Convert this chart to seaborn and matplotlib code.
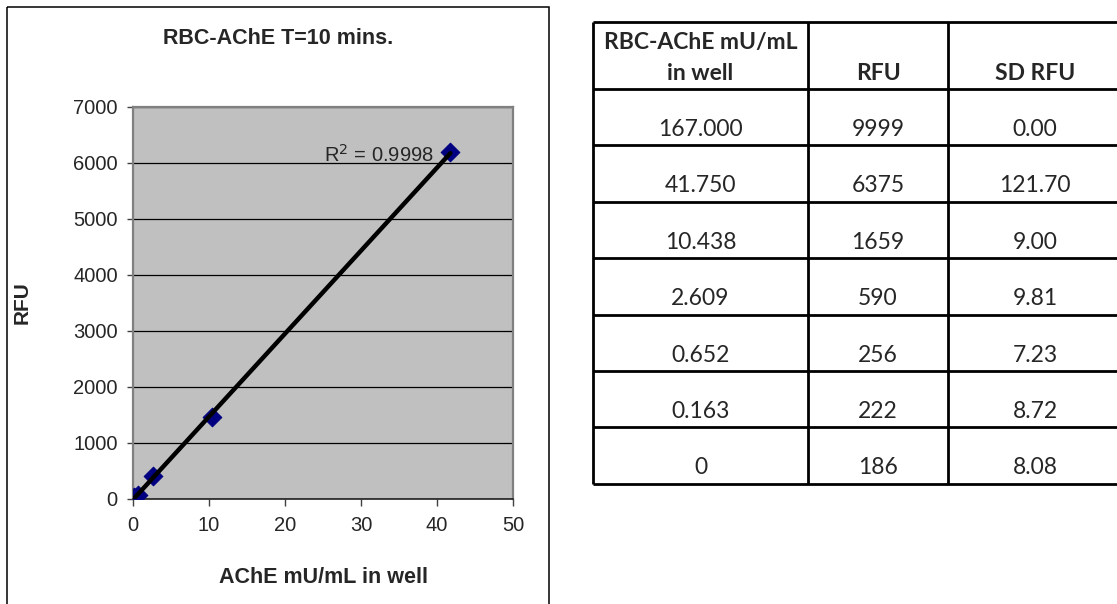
import numpy as np
import pandas as pd
import matplotlib
matplotlib.use("Agg")
import matplotlib.pyplot as plt
from matplotlib.patches import Rectangle
import seaborn as sns

# Table values
col_headers = ["RBC-AChE mU/mL\nin well", "RFU", "SD RFU"]
conc_labels = ["167.000", "41.750", "10.438", "2.609", "0.652", "0.163", "0"]
rfu_labels = ["9999", "6375", "1659", "590", "256", "222", "186"]
sd_labels = ["0.00", "121.70", "9.00", "9.81", "7.23", "8.72", "8.08"]

# Plotted points (blank-subtracted RFU)
plot_x = [41.75, 10.438, 2.609, 0.652, 0.163, 0.0]
plot_y = [6189, 1473, 404, 70, 36, 0]
r2_text = "R$^2$ = 0.9998"

sns.set_style("ticks")
plt.rcParams['font.family'] = ['Liberation Sans', 'DejaVu Sans']

W, H = 1117, 604
fig = plt.figure(figsize=(W / 100, H / 100), dpi=100)

# overlay in pixel coordinates for the frame and the table
ov = fig.add_axes([0, 0, 1, 1], zorder=0)
ov.set_xlim(0, W)
ov.set_ylim(H, 0)
ov.axis("off")
ov.add_patch(Rectangle((7, 7), 542, 640, fill=False, lw=1.1, ec="black"))
ov.text(278, 39, "RBC-AChE T=10 mins.", ha="center", va="center",
        fontsize=15.5, fontweight="bold")

# chart
ax = fig.add_axes([133 / W, 1 - 499 / H, 380 / W, 392 / H], zorder=2)
df = pd.DataFrame({"x": plot_x, "y": plot_y})
sns.scatterplot(data=df, x="x", y="y", ax=ax, marker="D", s=90,
                color="#000080", edgecolor="#000080", zorder=3)
sns.regplot(data=df, x="x", y="y", ax=ax, scatter=False, ci=None,
            truncate=True, line_kws={"color": "black", "lw": 3.2, "zorder": 4})
ax.set_facecolor("#C0C0C0")
ax.set_xlim(0, 50)
ax.set_ylim(0, 7000)
ax.set_xticks(np.arange(0, 51, 10))
ax.set_yticks(np.arange(0, 7001, 1000))
ax.yaxis.grid(True, color="black", lw=0.9)
ax.set_axisbelow(True)
for s in ["top", "right", "left"]:
    ax.spines[s].set_color("#808080")
    ax.spines[s].set_linewidth(1.6)
ax.spines["bottom"].set_color("#202020")
ax.spines["bottom"].set_linewidth(1.2)
ax.tick_params(axis="x", length=5, width=1, pad=7, labelsize=14.5, color="#404040")
ax.tick_params(axis="y", length=4, width=1, pad=7, labelsize=14.5, color="#404040")
ax.set_xlabel("AChE mU/mL in well", fontsize=15.5, fontweight="bold")
ax.set_ylabel("RFU", fontsize=15, fontweight="bold")
ax.xaxis.set_label_coords(0.5, -0.173)
ax.yaxis.set_label_coords(-0.268, 0.5)
ax.text(39.6, 6150, r2_text, ha="right", va="center", fontsize=14.5)

# table
col_edges = [593, 808, 948, 1122]
top, head_bot, row_h = 22, 89, 56.4
n = len(conc_labels)
row_edges = [top, head_bot] + [head_bot + row_h * (i + 1) for i in range(n)]
ov.hlines(row_edges, col_edges[0], col_edges[-1], color="black", lw=2)
ov.vlines(col_edges, top, row_edges[-1], color="black", lw=2)
tf = ["Lato", "DejaVu Sans"]
centers = [(col_edges[i] + col_edges[i + 1]) / 2 for i in range(3)]
ov.text(centers[0], head_bot - 47, "RBC-AChE mU/mL", ha="center", va="center",
        fontsize=16.5, fontweight="bold", family=tf)
ov.text(centers[0], head_bot - 15, "in well", ha="center", va="center",
        fontsize=16.5, fontweight="bold", family=tf)
ov.text(centers[1], head_bot - 15, col_headers[1], ha="center", va="center",
        fontsize=16.5, fontweight="bold", family=tf)
ov.text(centers[2], head_bot - 15, col_headers[2], ha="center", va="center",
        fontsize=16.5, fontweight="bold", family=tf)
for i, vals in enumerate(zip(conc_labels, rfu_labels, sd_labels)):
    yb = row_edges[i + 2]
    for c, v in zip(centers, vals):
        ov.text(c, yb - 16, v, ha="center", va="center", fontsize=16.5, family=tf)

fig.savefig("out.png", dpi=100)
